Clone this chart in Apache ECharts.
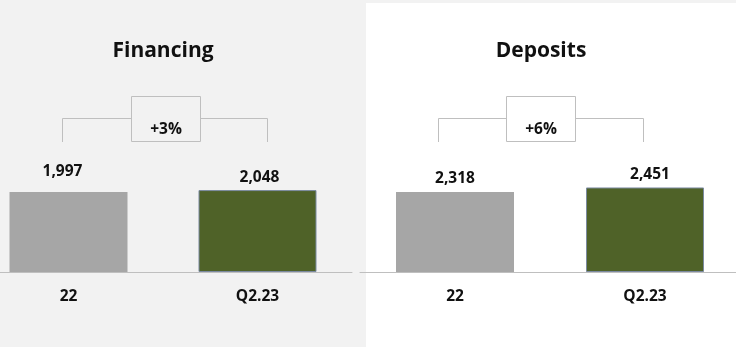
<!DOCTYPE html>
<html>
<head>
<meta charset="utf-8">
<script src="https://cdn.jsdelivr.net/npm/echarts@6/dist/echarts.min.js"></script>
<style>
  html, body { margin: 0; padding: 0; background: #f2f2f2; }
  #wrap { position: relative; width: 736px; height: 347px; background: #f2f2f2; overflow: hidden; }
  #panelRight { position: absolute; left: 366px; top: 3px; width: 370px; height: 344px; background: #ffffff; }
  #chart { position: absolute; left: 0; top: 0; width: 736px; height: 347px; }
</style>
</head>
<body>
<div id="wrap">
  <div id="panelRight"></div>
  <div id="chart"></div>
</div>
<script>
// Period labels shared by both panels
const periods = ['22', 'Q2.23'];

// Financing panel
const financingTitle = 'Financing';
const financingValues = [1997, 2048];
const financingGrowth = '+3%';

// Deposits panel
const depositsTitle = 'Deposits';
const depositsValues = [2318, 2451];
const depositsGrowth = '+6%';

const FONT = '"Open Sans", "Liberation Sans", sans-serif';
const GREY_BAR = '#a6a6a6';
const GREEN_BAR = '#4f6228';
const LINE = '#bfbfbf';

const fmt = v => v.toLocaleString('en-US');

// small nudges for individual value labels (layout only)
function barData(values, labelShifts) {
  return values.map((v, i) => ({
    value: v,
    itemStyle: i === 0
      ? { color: GREY_BAR }
      : { color: GREEN_BAR, borderColor: '#7b8aa0', borderWidth: 1 },
    label: { offset: labelShifts[i] }
  }));
}

const chart = echarts.init(document.getElementById('chart'), null, { renderer: 'canvas' });

const labelStyle = {
  show: true,
  position: 'top',
  distance: 5,
  fontFamily: FONT,
  fontWeight: 'bold',
  fontSize: 15.5,
  color: '#111',
  formatter: p => fmt(p.value)
};

function xAxis(gridIndex) {
  return {
    type: 'category',
    gridIndex,
    data: periods,
    axisLine: { show: true, lineStyle: { color: LINE, width: 1 } },
    axisTick: { show: false },
    axisLabel: {
      margin: 17,
      fontFamily: FONT,
      fontWeight: 'bold',
      fontSize: 15.5,
      color: '#111'
    }
  };
}

function yAxis(gridIndex, max) {
  return {
    type: 'value',
    gridIndex,
    min: 0,
    max,
    show: false,
    splitLine: { show: false }
  };
}

function bracket(x1, x2, boxX, boxW, text) {
  const top = 118.5, foot = 142, boxTop = 96.5, boxH = 45;
  const cx = boxX + boxW / 2;
  return [
    { type: 'polyline', silent: true,
      shape: { points: [[x1, foot], [x1, top], [boxX, top]] },
      style: { stroke: LINE, lineWidth: 1, fill: null } },
    { type: 'polyline', silent: true,
      shape: { points: [[boxX + boxW, top], [x2, top], [x2, foot]] },
      style: { stroke: LINE, lineWidth: 1, fill: null } },
    { type: 'rect', silent: true,
      shape: { x: boxX, y: boxTop, width: boxW, height: boxH },
      style: { stroke: LINE, lineWidth: 1, fill: 'rgba(0,0,0,0)' } },
    { type: 'text', silent: true, x: cx, y: 130,
      style: { text, fontFamily: FONT, fontWeight: 'bold', fontSize: 15.5,
               fill: '#111', align: 'center', verticalAlign: 'middle' } }
  ];
}

function heading(x, text) {
  return { type: 'text', silent: true, x, y: 51,
    style: { text, fontFamily: FONT, fontWeight: 'bold', fontSize: 21,
             fill: '#111', align: 'center', verticalAlign: 'middle' } };
}

chart.setOption({
  backgroundColor: 'transparent',
  animation: false,
  grid: [
    { left: -26, top: 72, width: 378, height: 200, outerBoundsMode: 'none', containLabel: false },
    { left: 360, top: 72, width: 380, height: 200, outerBoundsMode: 'none', containLabel: false }
  ],
  xAxis: [xAxis(0), xAxis(1)],
  yAxis: [yAxis(0, 5000), yAxis(1, 5800)],
  series: [
    {
      type: 'bar', xAxisIndex: 0, yAxisIndex: 0, barWidth: 118,
      data: barData(financingValues, [[-6, -8], [2, 0]]),
      label: labelStyle
    },
    {
      type: 'bar', xAxisIndex: 1, yAxisIndex: 1, barWidth: 118,
      data: barData(depositsValues, [[0, 0], [5, 0]]),
      label: labelStyle
    }
  ],
  graphic: {
    elements: [
      heading(163, financingTitle),
      heading(541, depositsTitle),
      ...bracket(62.5, 267.5, 131.5, 69, financingGrowth),
      ...bracket(438.5, 643.5, 506.5, 69, depositsGrowth)
    ]
  }
});
</script>
</body>
</html>
